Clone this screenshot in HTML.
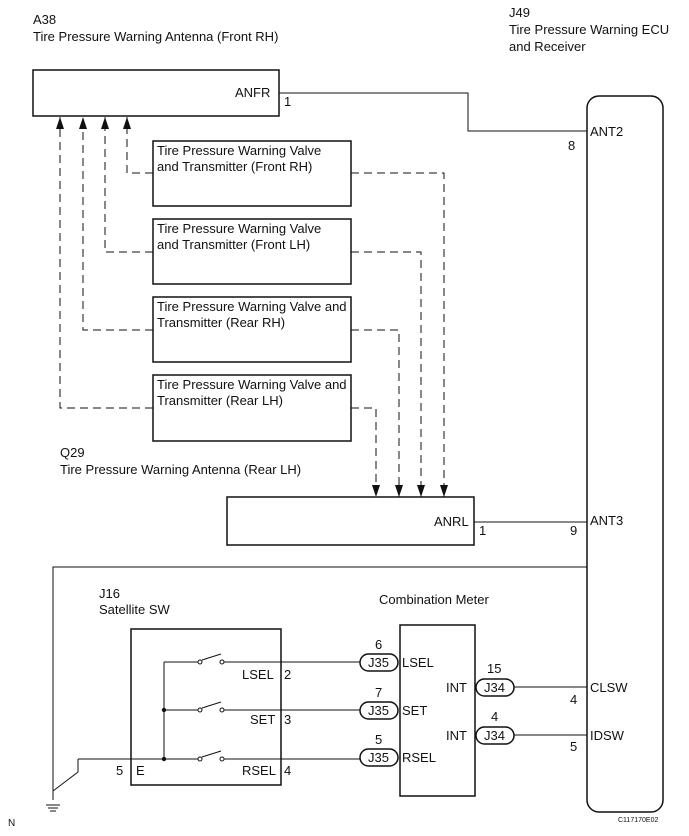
<!DOCTYPE html>
<html><head><style>
html,body{margin:0;padding:0;background:#fff;}
svg{display:block;}
text{font-family:"Liberation Sans",sans-serif;font-size:13px;fill:#111;}
</style></head><body>
<svg width="689" height="836" viewBox="0 0 689 836" xmlns="http://www.w3.org/2000/svg">
<defs>
<marker id="ar" markerWidth="8" markerHeight="12" refX="4" refY="12" markerUnits="userSpaceOnUse">
<path d="M0,0 L8,0 L4,12 Z" fill="#111"/></marker>
<marker id="au" markerWidth="8" markerHeight="12" refX="4" refY="0" markerUnits="userSpaceOnUse">
<path d="M0,12 L8,12 L4,0 Z" fill="#111"/></marker>
</defs>
<text x="33" y="24">A38</text>
<text x="33" y="41">Tire Pressure Warning Antenna (Front RH)</text>
<text x="509" y="17">J49</text>
<text x="509" y="34">Tire Pressure Warning ECU</text>
<text x="509" y="51">and Receiver</text>

<g stroke="#111" fill="none" stroke-width="1.5">
<rect x="33" y="70" width="246" height="46"/>
<rect x="587" y="96" width="76" height="716" rx="12"/>
<rect x="153" y="141" width="198" height="65"/>
<rect x="153" y="219" width="198" height="65"/>
<rect x="153" y="297" width="198" height="65"/>
<rect x="153" y="375" width="198" height="66"/>
<rect x="227" y="497" width="247" height="48"/>
<rect x="131" y="629" width="150" height="156"/>
<rect x="400" y="625" width="75" height="171"/>
</g>
<text x="235" y="97">ANFR</text><text x="284" y="106">1</text>
<text x="590" y="136">ANT2</text><text x="568" y="150">8</text>
<g stroke="#111" fill="none" stroke-width="1">
<polyline points="279,93 468,93 468,131 587,131"/>
<line x1="474" y1="522" x2="587" y2="522"/>
<polyline points="587,567 53,567 53,800"/>
</g>
<text x="157" y="155">Tire Pressure Warning Valve</text>
<text x="157" y="171">and Transmitter (Front RH)</text>
<text x="157" y="233">Tire Pressure Warning Valve</text>
<text x="157" y="249">and Transmitter (Front LH)</text>
<text x="157" y="311">Tire Pressure Warning Valve and</text>
<text x="157" y="327">Transmitter (Rear RH)</text>
<text x="157" y="389">Tire Pressure Warning Valve and</text>
<text x="157" y="405">Transmitter (Rear LH)</text>

<g stroke="#111" fill="none" stroke-width="1" stroke-dasharray="8,5">
<polyline points="153,173 127,173 127,117" marker-end="url(#au)"/>
<polyline points="153,252 105,252 105,117" marker-end="url(#au)"/>
<polyline points="153,330 83,330 83,117" marker-end="url(#au)"/>
<polyline points="153,408 60,408 60,117" marker-end="url(#au)"/>
<polyline points="351,173 444,173 444,497" marker-end="url(#ar)"/>
<polyline points="351,252 421,252 421,497" marker-end="url(#ar)"/>
<polyline points="351,330 399,330 399,497" marker-end="url(#ar)"/>
<polyline points="351,408 376,408 376,497" marker-end="url(#ar)"/>
</g>
<text x="60" y="457">Q29</text>
<text x="60" y="474">Tire Pressure Warning Antenna (Rear LH)</text>
<text x="434" y="526">ANRL</text><text x="479" y="535">1</text>
<text x="590" y="525">ANT3</text><text x="570" y="535">9</text>

<text x="99" y="598">J16</text>
<text x="99" y="614">Satellite SW</text>
<text x="379" y="604">Combination Meter</text>

<g stroke="#111" fill="none" stroke-width="1">
<line x1="164" y1="662" x2="164" y2="759"/>
<line x1="164" y1="662" x2="198" y2="662"/>
<line x1="164" y1="710" x2="198" y2="710"/>
<line x1="78" y1="759" x2="198" y2="759"/>
<line x1="202" y1="660" x2="221" y2="654"/>
<line x1="202" y1="708" x2="221" y2="702"/>
<line x1="202" y1="757" x2="221" y2="751"/>
<line x1="224" y1="662" x2="360" y2="662"/>
<line x1="224" y1="710" x2="360" y2="710"/>
<line x1="224" y1="759" x2="360" y2="759"/>
<circle cx="200" cy="662" r="2"/><circle cx="222" cy="662" r="2"/>
<circle cx="200" cy="710" r="2"/><circle cx="222" cy="710" r="2"/>
<circle cx="200" cy="759" r="2"/><circle cx="222" cy="759" r="2"/>
<polyline points="78,759 78,772 53,791"/>
<line x1="46" y1="805" x2="60" y2="805"/>
<line x1="48" y1="808" x2="58" y2="808"/>
<line x1="50" y1="811" x2="56" y2="811"/>
<line x1="514" y1="687" x2="587" y2="687"/>
<line x1="514" y1="735" x2="587" y2="735"/>
</g>
<circle cx="164" cy="710" r="2.2" fill="#111"/>
<circle cx="164" cy="759" r="2.2" fill="#111"/>
<text x="242" y="679">LSEL</text><text x="284" y="679">2</text>
<text x="250" y="724">SET</text><text x="284" y="724">3</text>
<text x="242" y="775">RSEL</text><text x="284" y="775">4</text>
<text x="116" y="775">5</text><text x="136" y="775">E</text>

<g stroke="#111" fill="#fff" stroke-width="1.5">
<rect x="360" y="654" width="38" height="17" rx="8.5"/>
<rect x="360" y="702" width="38" height="17" rx="8.5"/>
<rect x="360" y="749" width="38" height="17" rx="8.5"/>
<rect x="476" y="679" width="38" height="17" rx="8.5"/>
<rect x="476" y="727" width="38" height="17" rx="8.5"/>
</g>
<text x="368" y="667">J35</text><text x="368" y="715">J35</text><text x="368" y="762">J35</text>
<text x="484" y="692">J34</text><text x="484" y="740">J34</text>
<text x="375" y="649">6</text><text x="375" y="697">7</text><text x="375" y="744">5</text>
<text x="402" y="667">LSEL</text><text x="402" y="715">SET</text><text x="402" y="762">RSEL</text>
<text x="446" y="692">INT</text><text x="446" y="740">INT</text>
<text x="487" y="673">15</text><text x="491" y="721">4</text>
<text x="590" y="692">CLSW</text><text x="570" y="704">4</text>
<text x="590" y="740">IDSW</text><text x="570" y="751">5</text>
<text x="8" y="826" style="font-size:10px">N</text>
<text x="618" y="822" style="font-size:7px">C117170E02</text>
</svg>
</body></html>
